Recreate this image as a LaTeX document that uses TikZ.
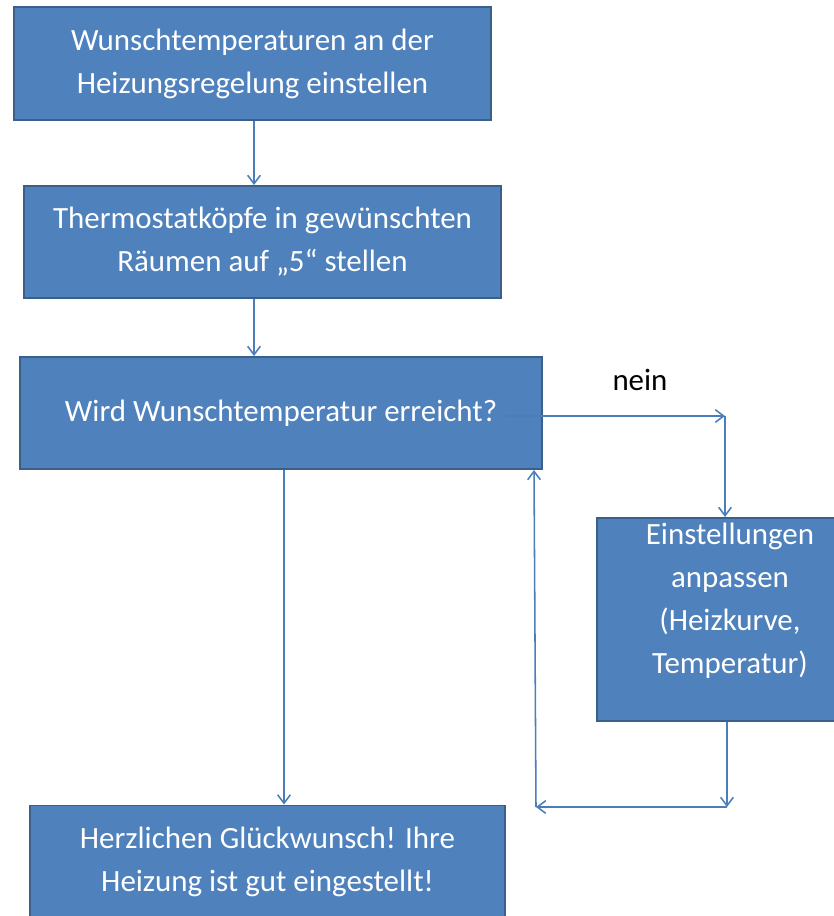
\documentclass[tikz,border=0pt]{standalone}
\usepackage{fontspec}
\setmainfont{Carlito}
\usepackage{xcolor}
\usetikzlibrary{positioning,calc,arrows,arrows.meta}
\definecolor{boxblue}{HTML}{4F81BD}
\definecolor{boxedge}{HTML}{3A5F8B}
\definecolor{lineblue}{HTML}{4A7EBB}
\tikzset{
  stepbox/.style={draw=boxedge, line width=1.4pt, fill=boxblue, text=white, align=center,
    font=\fontsize{22}{30.5}\selectfont, inner sep=0pt},
  arr/.style={-{Straight Barb[length=6pt,width=9pt]}, draw=lineblue, line width=1.1pt}
}

\begin{document}
\begin{tikzpicture}[x=0.025cm, y=-0.025cm]
\useasboundingbox (0,0) rectangle (834,916);
\clip (0,0) rectangle (834,916);
\node[stepbox, minimum width=11.925cm, minimum height=2.825cm] (b1) at (252.5,63.5) {Wunschtemperaturen an der\\Heizungsregelung einstellen};
\node[stepbox, minimum width=11.925cm, minimum height=2.8cm] (b2) at (262.5,242) {Thermostatköpfe in gewünschten\\Räumen auf „5“ stellen};
\node[stepbox, minimum width=13.05cm, minimum height=2.8cm] (b3) at (281,413) {Wird Wunschtemperatur erreicht?};
\node[stepbox, minimum width=6.65cm, minimum height=5.075cm, text depth=30pt] (b4) at (730,619.5) {Einstellungen\\anpassen\\(Heizkurve,\\Temperatur)};
\node[stepbox, minimum width=11.875cm, minimum height=2.825cm] (b5) at (267.5,862) {Herzlichen Glückwunsch! Ihre\\Heizung ist gut eingestellt!};
\node[font=\fontsize{22}{30.5}\selectfont] (nein) at (640,380) {nein};
\coordinate (neinstart) at (505,416);
\coordinate (neinend) at (725,416);
\coordinate (back) at (727,807);
\coordinate (backl) at (536,807);
\draw[arr] (254,0 |- b1.south) -- (254,0 |- b2.north);
\draw[arr] (254,0 |- b2.south) -- (254,0 |- b3.north);
\draw[arr] (neinstart) -- (neinend);
\draw[arr] (neinend) -- (neinend |- b4.north);
\draw[arr] (back |- b4.south) -- (back);
\draw[arr] (back) -- (backl);
\draw[arr] (backl) -- (534,0 |- b3.south);
\draw[arr] (284,0 |- b3.south) -- (284,0 |- b5.north);
\end{tikzpicture}
\end{document}
